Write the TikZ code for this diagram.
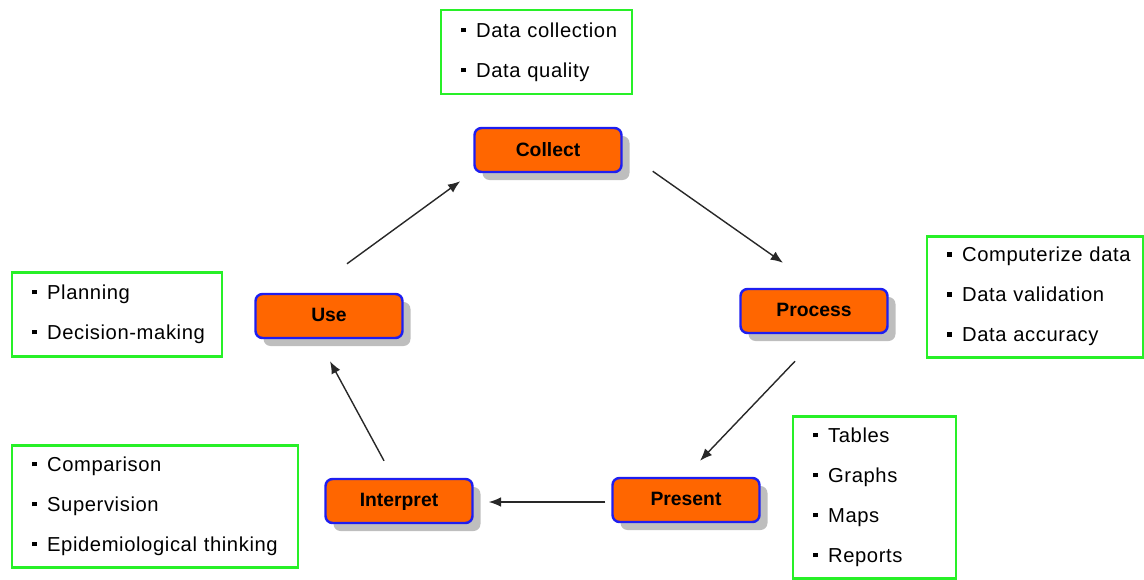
\documentclass[tikz,border=0pt]{standalone}
\usepackage{fontspec}
\setmainfont{Liberation Sans}
\newfontfamily\notefont[LetterSpace=3]{Liberation Sans}
\usetikzlibrary{shadows,arrows.meta}

\definecolor{stageorange}{RGB}{255,102,0}
\definecolor{stageblue}{RGB}{30,30,240}
\definecolor{notegreen}{RGB}{40,240,40}
\definecolor{shadegray}{RGB}{190,190,190}
\definecolor{flowgray}{RGB}{40,40,40}

\newcommand{\pxu}{0.02cm}
\newcommand{\noteline}[1]{\mbox{\rule[2.8pt]{2.6pt}{2.6pt}\hspace{6pt}#1}}

\begin{document}
\begin{tikzpicture}[x=0.02cm, y=-0.02cm,
    stage/.style={draw=stageblue, line width=1.4pt, fill=stageorange, rounded corners=4pt,
      minimum width=147*\pxu, minimum height=44*\pxu, text depth=1pt,
      font=\bfseries\fontsize{11}{13}\selectfont,
      drop shadow={shadow xshift=8*\pxu, shadow yshift=-8*\pxu, fill=shadegray, opacity=1}},
    notes/.style={draw=notegreen, line width=1.7pt, align=left, inner xsep=20*\pxu, inner ysep=0pt,
      font=\notefont\fontsize{11.5}{22.7}\selectfont},
    flow/.style={draw=flowgray, line width=0.8pt, -{Latex[length=7pt,width=5.5pt]}}]
        \useasboundingbox (0,0) rectangle (1144,579);
        % the five stages
        \node[stage] (collect) at (548,150) {Collect};
        \node[stage] (process) at (814,311) {Process};
        \node[stage] (present) at (686,500) {Present};
        \node[stage] (interpret) at (399,501) {Interpret};
        \node[stage] (use) at (329,316) {Use};
        % notes next to each stage
        \node[notes, text width=151*\pxu, minimum height=84*\pxu] (collectnotes) at (536.5,52)
            {\noteline{Data collection}\\ \noteline{Data quality}};
        \node[notes, text width=176*\pxu, minimum height=121*\pxu] (processnotes) at (1035,296.5)
            {\noteline{Computerize data}\\ \noteline{Data validation}\\ \noteline{Data accuracy}};
        \node[notes, text width=123*\pxu, minimum height=162*\pxu] (presentnotes) at (874.5,497)
            {\noteline{Tables}\\ \noteline{Graphs}\\ \noteline{Maps}\\ \noteline{Reports}};
        \node[notes, text width=246*\pxu, minimum height=122*\pxu] (interpretnotes) at (155,506)
            {\noteline{Comparison}\\ \noteline{Supervision}\\ \noteline{Epidemiological thinking}};
        \node[notes, text width=170*\pxu, minimum height=84*\pxu] (usenotes) at (117,314)
            {\noteline{Planning}\\ \noteline{Decision-making}};
        % the cycle
        \draw[flow] ([shift={(30,-2)}]collect.south east) -- ([shift={(-31,-25)}]process.north);
        \draw[flow] ([shift={(-19,27)}]process.south) -- ([shift={(14,-16)}]present.north);
        \draw[flow] ([shift={(-6,2)}]present.west) -- ([shift={(15,1)}]interpret.east);
        \draw[flow] ([shift={(-15,-17)}]interpret.north) -- ([shift={(1,22)}]use.south);
        \draw[flow] ([shift={(18,-29)}]use.north) -- ([shift={(-13,8)}]collect.south west);
\end{tikzpicture}
\end{document}
